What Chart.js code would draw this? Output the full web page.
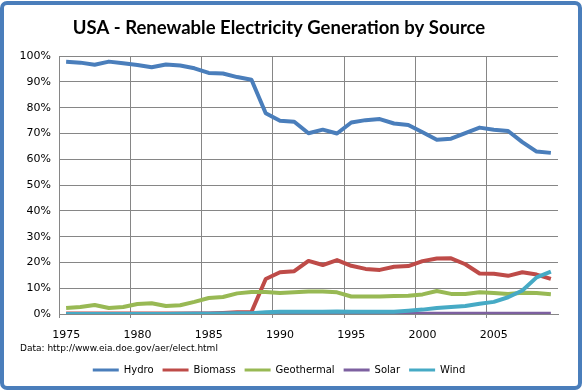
<!DOCTYPE html>
<html>
<head>
<meta charset="utf-8">
<script src="https://cdn.jsdelivr.net/npm/chart.js@4.4.1/dist/chart.umd.min.js"></script>
<style>
  body { margin: 0; background: #fff; }
  #wrap { position: relative; width: 582px; height: 390px; }
  #frame {
    position: absolute; left: 0; top: 1px; width: 582px; height: 389px;
    box-sizing: border-box; border: 4px solid #4a7ebb; border-radius: 7px;
    pointer-events: none;
  }
</style>
</head>
<body>
<div id="wrap">
  <canvas id="renewChart" width="582" height="390"></canvas>
  <div id="frame"></div>
</div>
<script>
// data (% share of renewable generation)
const years = [];
for (let y = 1975; y <= 2009; y++) years.push(String(y));

const hydro = [97.8, 97.5, 96.7, 97.9, 97.3, 96.6, 95.7, 96.8, 96.4, 95.3, 93.5, 93.3, 91.9, 90.9,
  77.9, 75.0, 74.6, 70.1, 71.5, 70.0, 74.3, 75.2, 75.6, 73.9, 73.3, 70.5, 67.6, 68.0, 70.2, 72.3,
  71.5, 71.0, 66.7, 63.0, 62.5];
const biomass = [0.2, 0.2, 0.2, 0.2, 0.2, 0.2, 0.2, 0.2, 0.2, 0.2, 0.2, 0.4, 0.7, 0.8,
  13.6, 16.2, 16.6, 20.6, 19.0, 20.9, 18.7, 17.5, 17.1, 18.3, 18.6, 20.5, 21.5, 21.6, 19.3, 15.7,
  15.6, 14.8, 16.2, 15.3, 13.6];
const geothermal = [2.3, 2.7, 3.5, 2.3, 2.7, 3.9, 4.2, 3.1, 3.4, 4.7, 6.2, 6.6, 8.0, 8.5,
  8.5, 8.1, 8.4, 8.7, 8.7, 8.4, 6.8, 6.8, 6.8, 7.0, 7.1, 7.6, 8.9, 7.8, 7.8, 8.4,
  8.1, 7.8, 8.2, 8.1, 7.7];
const solar = [0, 0, 0, 0, 0, 0, 0, 0, 0, 0.1, 0.1, 0.1, 0.1, 0.1,
  0.1, 0.1, 0.1, 0.1, 0.1, 0.1, 0.1, 0.1, 0.1, 0.1, 0.1, 0.1, 0.1, 0.1, 0.1, 0.1,
  0.1, 0.1, 0.1, 0.1, 0.1];
const wind = [0, 0, 0, 0, 0, 0, 0, 0, 0.1, 0.1, 0.1, 0.2, 0.3, 0.3,
  0.7, 0.9, 0.9, 0.9, 0.9, 1.0, 0.9, 0.9, 0.9, 0.9, 1.3, 1.7, 2.3, 2.7, 3.1, 4.0,
  4.7, 6.5, 9.1, 14.2, 16.4];

const yTicks = [0, 10, 20, 30, 40, 50, 60, 70, 80, 90, 100];
const sourceNote = 'Data: http://www.eia.doe.gov/aer/elect.html';

const gridGray = '#868686';

function series(label, data, color, order) {
  return {
    label: label,
    data: data,
    borderColor: color,
    backgroundColor: color,
    borderWidth: 4,
    pointRadius: 0,
    tension: 0,
    borderJoinStyle: 'round',
    order: order
  };
}

// draws the source line under the axis labels
const notePlugin = {
  id: 'sourceNote',
  afterDraw(chart) {
    const ctx = chart.ctx;
    ctx.save();
    ctx.font = '9px "DejaVu Sans"';
    ctx.fillStyle = '#000';
    ctx.textBaseline = 'middle';
    ctx.fillText(sourceNote, 20, 349);
    ctx.restore();
  }
};

new Chart(document.getElementById('renewChart'), {
  type: 'line',
  data: {
    labels: years,
    datasets: [
      series('Hydro', hydro, '#4a7ebb', 5),
      series('Biomass', biomass, '#be4b48', 4),
      series('Geothermal', geothermal, '#98b954', 3),
      series('Solar', solar, '#7d60a0', 2),
      series('Wind', wind, '#46aac5', 1)
    ]
  },
  options: {
    responsive: false,
    animation: false,
    layout: { padding: { left: 0, right: 24, top: 0, bottom: 5 } },
    scales: {
      x: {
        offset: true,
        grid: {
          offset: true,
          tickLength: 4,
          color: ctx => (ctx.index % 5 === 0 ? gridGray : 'rgba(0,0,0,0)')
        },
        border: { color: gridGray },
        ticks: {
          autoSkip: false,
          maxRotation: 0,
          padding: 11,
          color: '#000',
          font: { family: 'DejaVu Sans', size: 11 },
          callback: function (val, index) {
            return index % 5 === 0 ? this.getLabelForValue(val) : '';
          }
        },
        afterFit: scale => { scale.height = 42; }
      },
      y: {
        min: 0,
        max: 100,
        afterBuildTicks: scale => { scale.ticks = yTicks.map(v => ({ value: v })); },
        grid: { color: gridGray, drawTicks: false },
        border: { color: gridGray },
        ticks: {
          padding: 8,
          color: '#000',
          font: { family: 'DejaVu Sans', size: 11 },
          callback: v => v + '%'
        },
        afterFit: scale => { scale.width = 59; }
      }
    },
    plugins: {
      title: {
        display: true,
        text: 'USA - Renewable Electricity Generation by Source',
        color: '#000',
        font: { family: 'Lato', size: 18.5, weight: 'bold', lineHeight: 1.2 },
        padding: { top: 17, bottom: 17 }
      },
      legend: {
        position: 'bottom',
        labels: {
          boxWidth: 26,
          boxHeight: 3,
          padding: 9,
          color: '#000',
          font: { family: 'DejaVu Sans', size: 10 },
          sort: (a, b) => a.datasetIndex - b.datasetIndex,
          generateLabels: chart =>
            Chart.defaults.plugins.legend.labels.generateLabels(chart).map(l =>
              Object.assign(l, { lineWidth: 0, fillStyle: l.strokeStyle }))
        }
      },
      tooltip: { enabled: false }
    }
  },
  plugins: [notePlugin]
});
</script>
</body>
</html>
